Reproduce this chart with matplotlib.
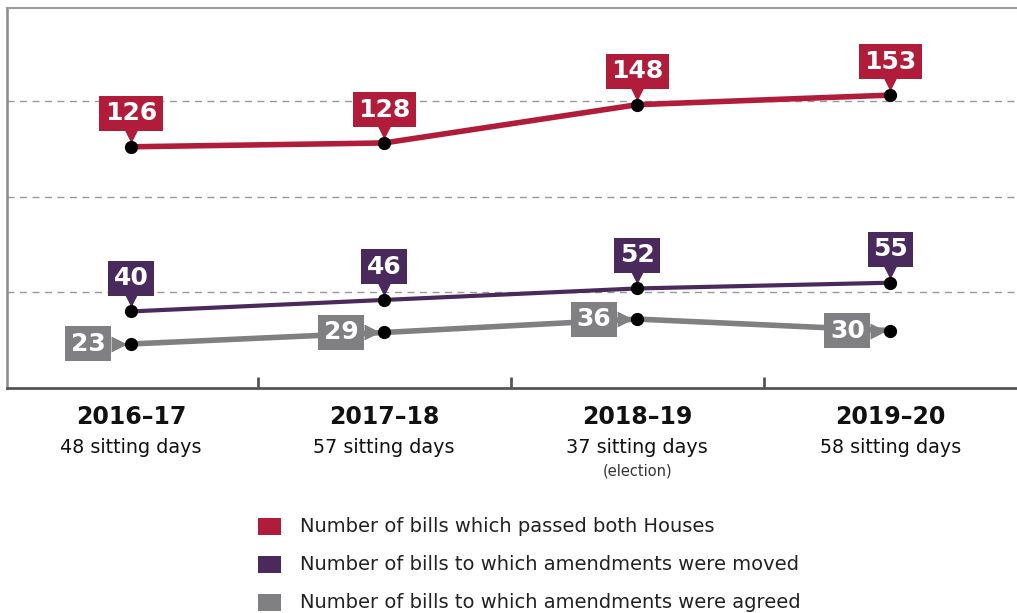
import matplotlib.pyplot as plt
import matplotlib.transforms as mtransforms
from matplotlib.font_manager import fontManager

years = ['2016\u201317', '2017\u201318', '2018\u201319', '2019\u201320']
days = ['48 sitting days', '57 sitting days', '37 sitting days', '58 sitting days']
notes = ['', '', '(election)', '']
passed = [126, 128, 148, 153]
moved = [40, 46, 52, 55]
agreed = [23, 29, 36, 30]
legend_labels = ['Number of bills which passed both Houses',
                 'Number of bills to which amendments were moved',
                 'Number of bills to which amendments were agreed']

RED = '#b01c3a'
PURPLE = '#4a2a5c'
GREY = '#808083'

names = {f.name for f in fontManager.ttflist}
font = 'Liberation Sans Narrow' if 'Liberation Sans Narrow' in names else 'DejaVu Sans'
plt.rcParams['font.family'] = [font, 'DejaVu Sans']

fig = plt.figure(figsize=(10.17, 6.13), dpi=100)
ax = fig.add_axes([7 / 1017, 1 - 388 / 613, 1010 / 1017, 380 / 613])
x = list(range(len(years)))

ax.set_xlim(-0.49, 3.5)
ax.set_ylim(0, 198.5)

for g in [50, 100, 150]:
    ax.axhline(g, color='#999999', lw=1, ls=(0, (5, 4)), zorder=1)

for vals, col, lw in [(passed, RED, 4), (moved, PURPLE, 3), (agreed, GREY, 4)]:
    ax.plot(x, vals, color=col, lw=lw, zorder=3, solid_capstyle='butt')
    ax.plot(x, vals, 'o', color='black', ms=8.5, zorder=5)


def label_above(xi, yi, txt, col):
    ax.annotate(txt, xy=(xi, yi), xytext=(0, 24), textcoords='offset points',
                ha='center', va='center', color='white', fontsize=18, fontweight='bold',
                bbox=dict(boxstyle='square,pad=0.22', fc=col, ec='none'), zorder=6)
    tr = mtransforms.offset_copy(ax.transData, fig=fig, x=0, y=12, units='dots')
    ax.plot([xi], [yi], marker='v', ms=11, color=col, mec='none', transform=tr, zorder=4)


def label_left(xi, yi, txt, col):
    ax.annotate(txt, xy=(xi, yi), xytext=(-31, 0), textcoords='offset points',
                ha='center', va='center', color='white', fontsize=18, fontweight='bold',
                bbox=dict(boxstyle='square,pad=0.22', fc=col, ec='none'), zorder=6)
    tr = mtransforms.offset_copy(ax.transData, fig=fig, x=-12, y=0, units='dots')
    ax.plot([xi], [yi], marker='>', ms=11, color=col, mec='none', transform=tr, zorder=4)


for i in x:
    label_above(i, passed[i], str(passed[i]), RED)
    label_above(i, moved[i], str(moved[i]), PURPLE)
    label_left(i, agreed[i], str(agreed[i]), GREY)

# axes frame
ax.spines['right'].set_visible(False)
ax.spines['left'].set_color('#8a8a8a')
ax.spines['left'].set_linewidth(1.8)
ax.spines['top'].set_color('#9a9a9a')
ax.spines['top'].set_linewidth(1.5)
ax.spines['bottom'].set_color('#555555')
ax.spines['bottom'].set_linewidth(2)
ax.set_yticks([])
ax.set_xticks([0.5, 1.5, 2.5])
ax.set_xticklabels([])
ax.tick_params(axis='x', direction='in', length=8, width=2, color='#555555')

for i in x:
    ax.annotate(years[i], xy=(i, 0), xytext=(0, -21), textcoords='offset points',
                ha='center', va='center', fontsize=17, fontweight='bold', color='#111111')
    ax.annotate(days[i], xy=(i, 0), xytext=(0, -42.5), textcoords='offset points',
                ha='center', va='center', fontsize=13.8, color='#111111')
    if notes[i]:
        ax.annotate(notes[i], xy=(i, 0), xytext=(0, -59.5), textcoords='offset points',
                    ha='center', va='center', fontsize=10.5, color='#333333')

# legend
for k, (lab, col) in enumerate(zip(legend_labels, [RED, PURPLE, GREY])):
    yc = 1 - (526 + 38 * k) / 613
    fig.patches.append(plt.Rectangle((258 / 1017, yc - 8.5 / 613), 23 / 1017, 17 / 613,
                                     transform=fig.transFigure, fc=col, ec='none'))
    fig.text(300 / 1017, yc, lab, ha='left', va='center', fontsize=14, color='#222222')

fig.savefig('out.png', dpi=100)
